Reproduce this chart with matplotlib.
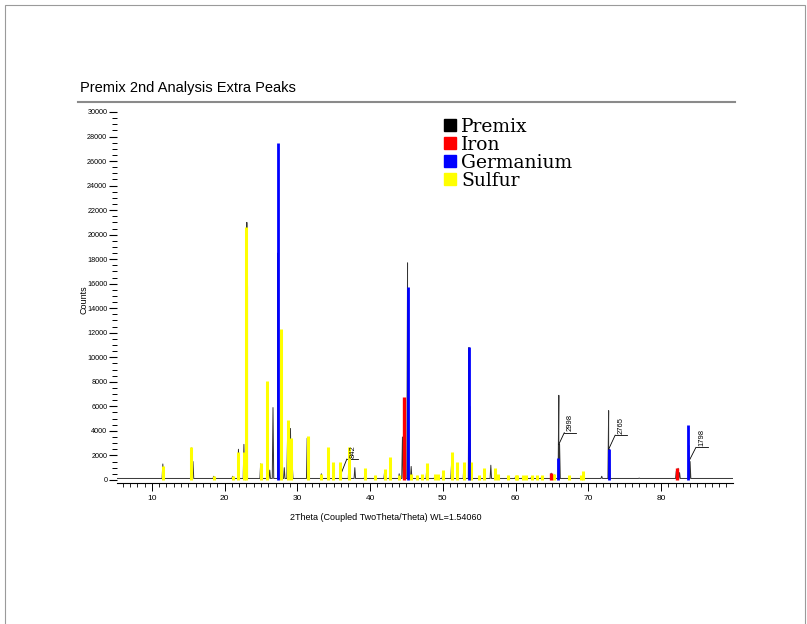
import numpy as np
import matplotlib
matplotlib.use("Agg")
import matplotlib.pyplot as plt
from matplotlib.patches import Patch, Rectangle
from matplotlib.lines import Line2D

# measured Premix pattern: peak positions (2theta) and heights (counts)
premix_pos = [11.5, 15.45, 15.65, 18.5, 21.1, 21.9, 22.65, 23.05, 23.15, 24.95,
              25.85, 26.2, 26.65, 27.3, 27.38, 27.75, 28.2, 28.65, 29.05, 29.3,
              31.35, 33.3, 34.3, 35.0, 36.0, 37.1, 37.9, 39.3, 40.8, 42.0,
              42.75, 44.0, 44.45, 45.15, 45.25, 45.65, 46.5, 47.8, 48.9, 50.0,
              51.2, 52.0, 52.9, 53.6, 53.7, 53.9, 55.7, 56.6, 57.2, 59.0,
              60.0, 61.0, 62.2, 63.6, 64.9, 65.35, 65.95, 66.05, 69.3, 71.85,
              72.8, 72.9, 77.0, 82.1, 82.35, 82.55, 83.85, 84.0]
premix_h = [1300, 2600, 1500, 300, 300, 2500, 2900, 21000, 15700, 1300,
            2000, 800, 5900, 18500, 10400, 6000, 1000, 3500, 4200, 1200,
            3400, 500, 1600, 900, 550, 1400, 1000, 700, 300, 700,
            1200, 500, 3500, 17700, 9500, 1100, 300, 1000, 300, 500,
            1300, 1000, 1200, 10800, 6000, 1200, 700, 1200, 700, 300,
            250, 250, 250, 250, 550, 400, 6900, 2900, 500, 300,
            5650, 2500, 150, 700, 950, 600, 2800, 1500]

# reference sticks
sulfur_pos = [11.5, 15.4, 18.5, 21.1, 21.9, 22.65, 23.0, 24.95, 25.85, 27.75,
              28.65, 29.1, 31.4, 33.3, 34.2, 34.95, 35.9, 37.05, 39.3, 40.7,
              42.0, 42.75, 44.0, 45.6, 46.5, 47.1, 47.8, 48.9, 49.3, 50.0,
              51.2, 52.0, 52.9, 53.9, 55.0, 55.7, 57.2, 57.6, 59.0, 60.0,
              60.2, 61.0, 61.4, 62.2, 62.9, 63.6, 65.35, 67.3, 69.0, 69.3]
sulfur_h = [1100, 2700, 350, 350, 2300, 2300, 20600, 1400, 8100, 12300,
            4900, 3400, 3600, 500, 2700, 1500, 1500, 2700, 1000, 400,
            900, 1900, 400, 500, 400, 500, 1400, 500, 500, 800,
            2300, 1500, 1500, 1500, 400, 1000, 1000, 500, 400, 400,
            400, 400, 400, 400, 400, 400, 500, 400, 400, 700]
iron_pos = [44.6, 64.9, 82.2]
iron_h = [6800, 600, 1000]
germanium_pos = [27.3, 45.2, 53.65, 65.9, 72.8, 83.65]
germanium_h = [27500, 15700, 10800, 1800, 2500, 4500]

# peak annotations: (peak x, peak y, label x, label y, text)
notes = [(36.0, 500, 37.6, 1700, "842"),
         (65.95, 2900, 67.5, 3850, "2998"),
         (72.8, 2500, 74.5, 3650, "2765"),
         (83.9, 1600, 85.6, 2650, "1798")]

legend_names = ["Premix", "Iron", "Germanium", "Sulfur"]
legend_colors = ["black", "#ff0000", "#0000ff", "#ffff00"]

fig = plt.figure(figsize=(8.07, 6.24), dpi=100)
ax = fig.add_axes([117/807, 1-483/624, (733-117)/807, (483-112)/624])

# black trace built from the listed peaks
base = 120
w = 0.1
xs, ys = [5.2, 89.9], [base, base]
for p, h in zip(premix_pos, premix_h):
    xs += [p - w, p, p + w]
    ys += [base, h, base]
order = np.argsort(xs, kind="stable")
xs = np.array(xs)[order]
ys = np.array(ys)[order]

ax.plot(xs, ys, color="black", lw=0.7, alpha=0.8, zorder=2)
ax.vlines(sulfur_pos, 0, sulfur_h, color="#ffff00", lw=2.2, zorder=3)
ax.vlines(iron_pos, 0, iron_h, color="#ff0000", lw=2.4, zorder=3)
ax.vlines(germanium_pos, 0, germanium_h, color="#0000ff", lw=2.0, zorder=3)

for px, py, lx, ly, t in notes:
    ax.plot([px, lx - 0.8], [py, ly], color="black", lw=0.6)
    ax.plot([lx - 0.8, lx + 0.8], [ly, ly], color="black", lw=0.6)
    ax.text(lx, ly + 100, t, rotation=90, ha="center", va="bottom",
            fontsize=5.5, family="Liberation Sans")

ax.set_xlim(5.2, 89.9)
ax.set_ylim(-250, 30000)
for s in ["top", "right", "left"]:
    ax.spines[s].set_visible(False)
ax.spines["bottom"].set_linewidth(0.8)
ax.set_xticks(np.arange(10, 90, 10))
ax.set_xticks(np.arange(6, 90, 1), minor=True)
ax.set_yticks(np.arange(0, 30001, 2000))
ax.set_yticks(np.arange(0, 30001, 500), minor=True)
ax.tick_params(axis="x", which="major", length=6, width=0.7, labelsize=6, pad=2.5)
ax.tick_params(axis="x", which="minor", length=3, width=0.6)
ax.tick_params(axis="y", which="major", length=6, width=0.8, labelsize=5.2, pad=1)
ax.tick_params(axis="y", which="minor", length=3.5, width=0.7)
for lab in ax.get_xticklabels() + ax.get_yticklabels():
    lab.set_family("Liberation Sans")

fig.text(386/807, 1-518/624, "2Theta (Coupled TwoTheta/Theta) WL=1.54060",
         ha="center", va="center", fontsize=6.5, family="Liberation Sans")
fig.text(84/807, 1-300/624, "Counts", rotation=90, ha="center", va="center",
         fontsize=6.5, family="Liberation Sans")

fig.text(80/807, 1-88/624, "Premix 2nd Analysis Extra Peaks", ha="left",
         va="center", fontsize=10.5, family="Liberation Sans")
fig.add_artist(Line2D([78/807, 735/807], [1-102/624, 1-102/624],
                      color="#8a8a8a", lw=1.5))
fig.add_artist(Rectangle((5/807, -0.01), 800/807, 1-5/624+0.01, fill=False,
                         edgecolor="#9a9a9a", lw=0.8))

handles = [Patch(facecolor=c, edgecolor=c) for c in legend_colors]
fig.legend(handles, legend_names, loc="upper left",
           bbox_to_anchor=(444/807, 1-118/624), frameon=False,
           prop={"family": "DejaVu Serif", "size": 13.5},
           handlelength=0.62, handleheight=0.62, handletextpad=0.3,
           labelspacing=0.0, borderpad=0, borderaxespad=0)

fig.savefig("out.png", dpi=100)
